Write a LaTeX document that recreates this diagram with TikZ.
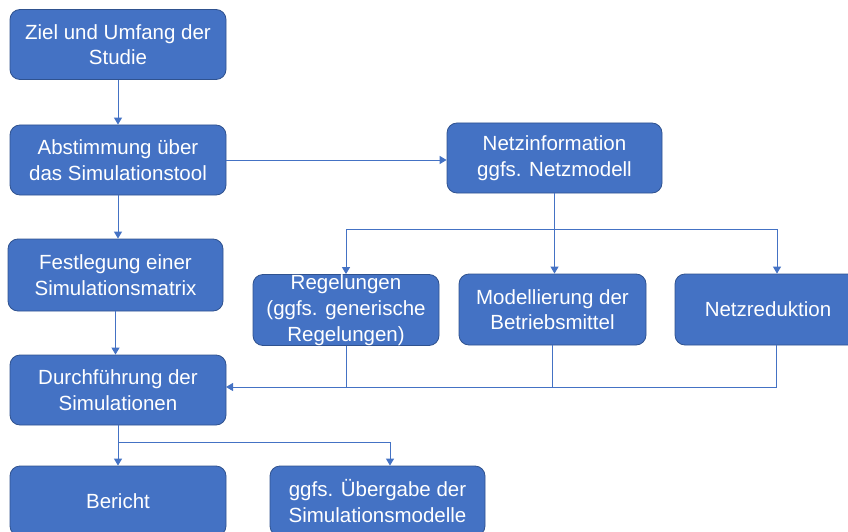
\documentclass[tikz,border=0pt]{standalone}
\usepackage{fontspec}
\setmainfont{Liberation Sans}
\usetikzlibrary{arrows.meta}
\definecolor{boxfill}{RGB}{68,114,196}
\definecolor{boxline}{RGB}{47,82,143}
\definecolor{flow}{RGB}{68,114,196}
\newcommand{\drawflow}{\draw[flowline]}
\newcommand{\drawplain}{\draw[flowline, -]}
\tikzset{
  stepbox/.style={draw=boxline, line width=0.8pt, fill=boxfill, rounded corners=10pt,
    text=white, align=center, inner sep=0pt, minimum width=216pt, minimum height=70pt,
    font=\fontsize{20.5}{25.5}\selectfont},
  flowline/.style={draw=flow, line width=1pt, -{Triangle[width=8pt,length=7pt]}},
}
\begin{document}
\begin{tikzpicture}[x=1pt, y=-1pt]
\useasboundingbox (0,0) rectangle (848,532);
% left column
\node[stepbox] (ziel) at (118,44.5) {Ziel und Umfang der\\Studie};
\node[stepbox] (abst) at (118,160) {Abstimmung über\\das Simulationstool};
\node[stepbox, minimum width=215pt, minimum height=72pt] (fest) at (115.5,275) {Festlegung einer\\Simulationsmatrix};
\node[stepbox] (durch) at (118,390) {Durchführung der\\Simulationen};
\node[stepbox] (bericht) at (118,501) {Bericht};
\node[stepbox, minimum width=215pt] (uebergabe) at (377.5,501) {ggfs. Übergabe der\\Simulationsmodelle};
% right part
\node[stepbox, minimum width=215pt] (netz) at (554.5,158) {Netzinformation\\ggfs. Netzmodell};
\node[stepbox, minimum width=186pt, minimum height=71pt, inner ysep=-3pt,
  font=\fontsize{20.5}{26}\selectfont] (regel) at (346,310) {Regelungen\\(ggfs. generische\\Regelungen)};
\node[stepbox, minimum width=187pt, minimum height=71pt] (modell) at (552.5,309.5) {Modellierung der\\Betriebsmittel};
\node[stepbox, minimum width=186pt, minimum height=71pt] (netzred) at (768,309.5) {Netzreduktion};
% connectors
\drawflow (ziel) -- (abst);
\drawflow (abst) -- (abst -| netz.west);
\drawflow (abst) -- (fest.north -| abst);
\drawflow (fest) -- (durch.north -| fest);
\drawflow (netz.south) -- (modell.north -| netz.south);
\coordinate (split) at (554,229);
\drawflow (split) -| (regel.north);
\drawflow (split) -| ([xshift=9pt]netzred.north);
\coordinate (merge) at (226,387);
\drawplain (regel.south) -- (regel.south |- merge);
\drawplain (modell.south) -- (modell.south |- merge);
\drawflow ([xshift=8pt]netzred.south) |- (merge);
\coordinate (fork) at (118,442);
\drawflow (durch) -- (bericht);
\drawflow (fork) -| ([xshift=12.5pt]uebergabe.north);
\end{tikzpicture}
\end{document}
